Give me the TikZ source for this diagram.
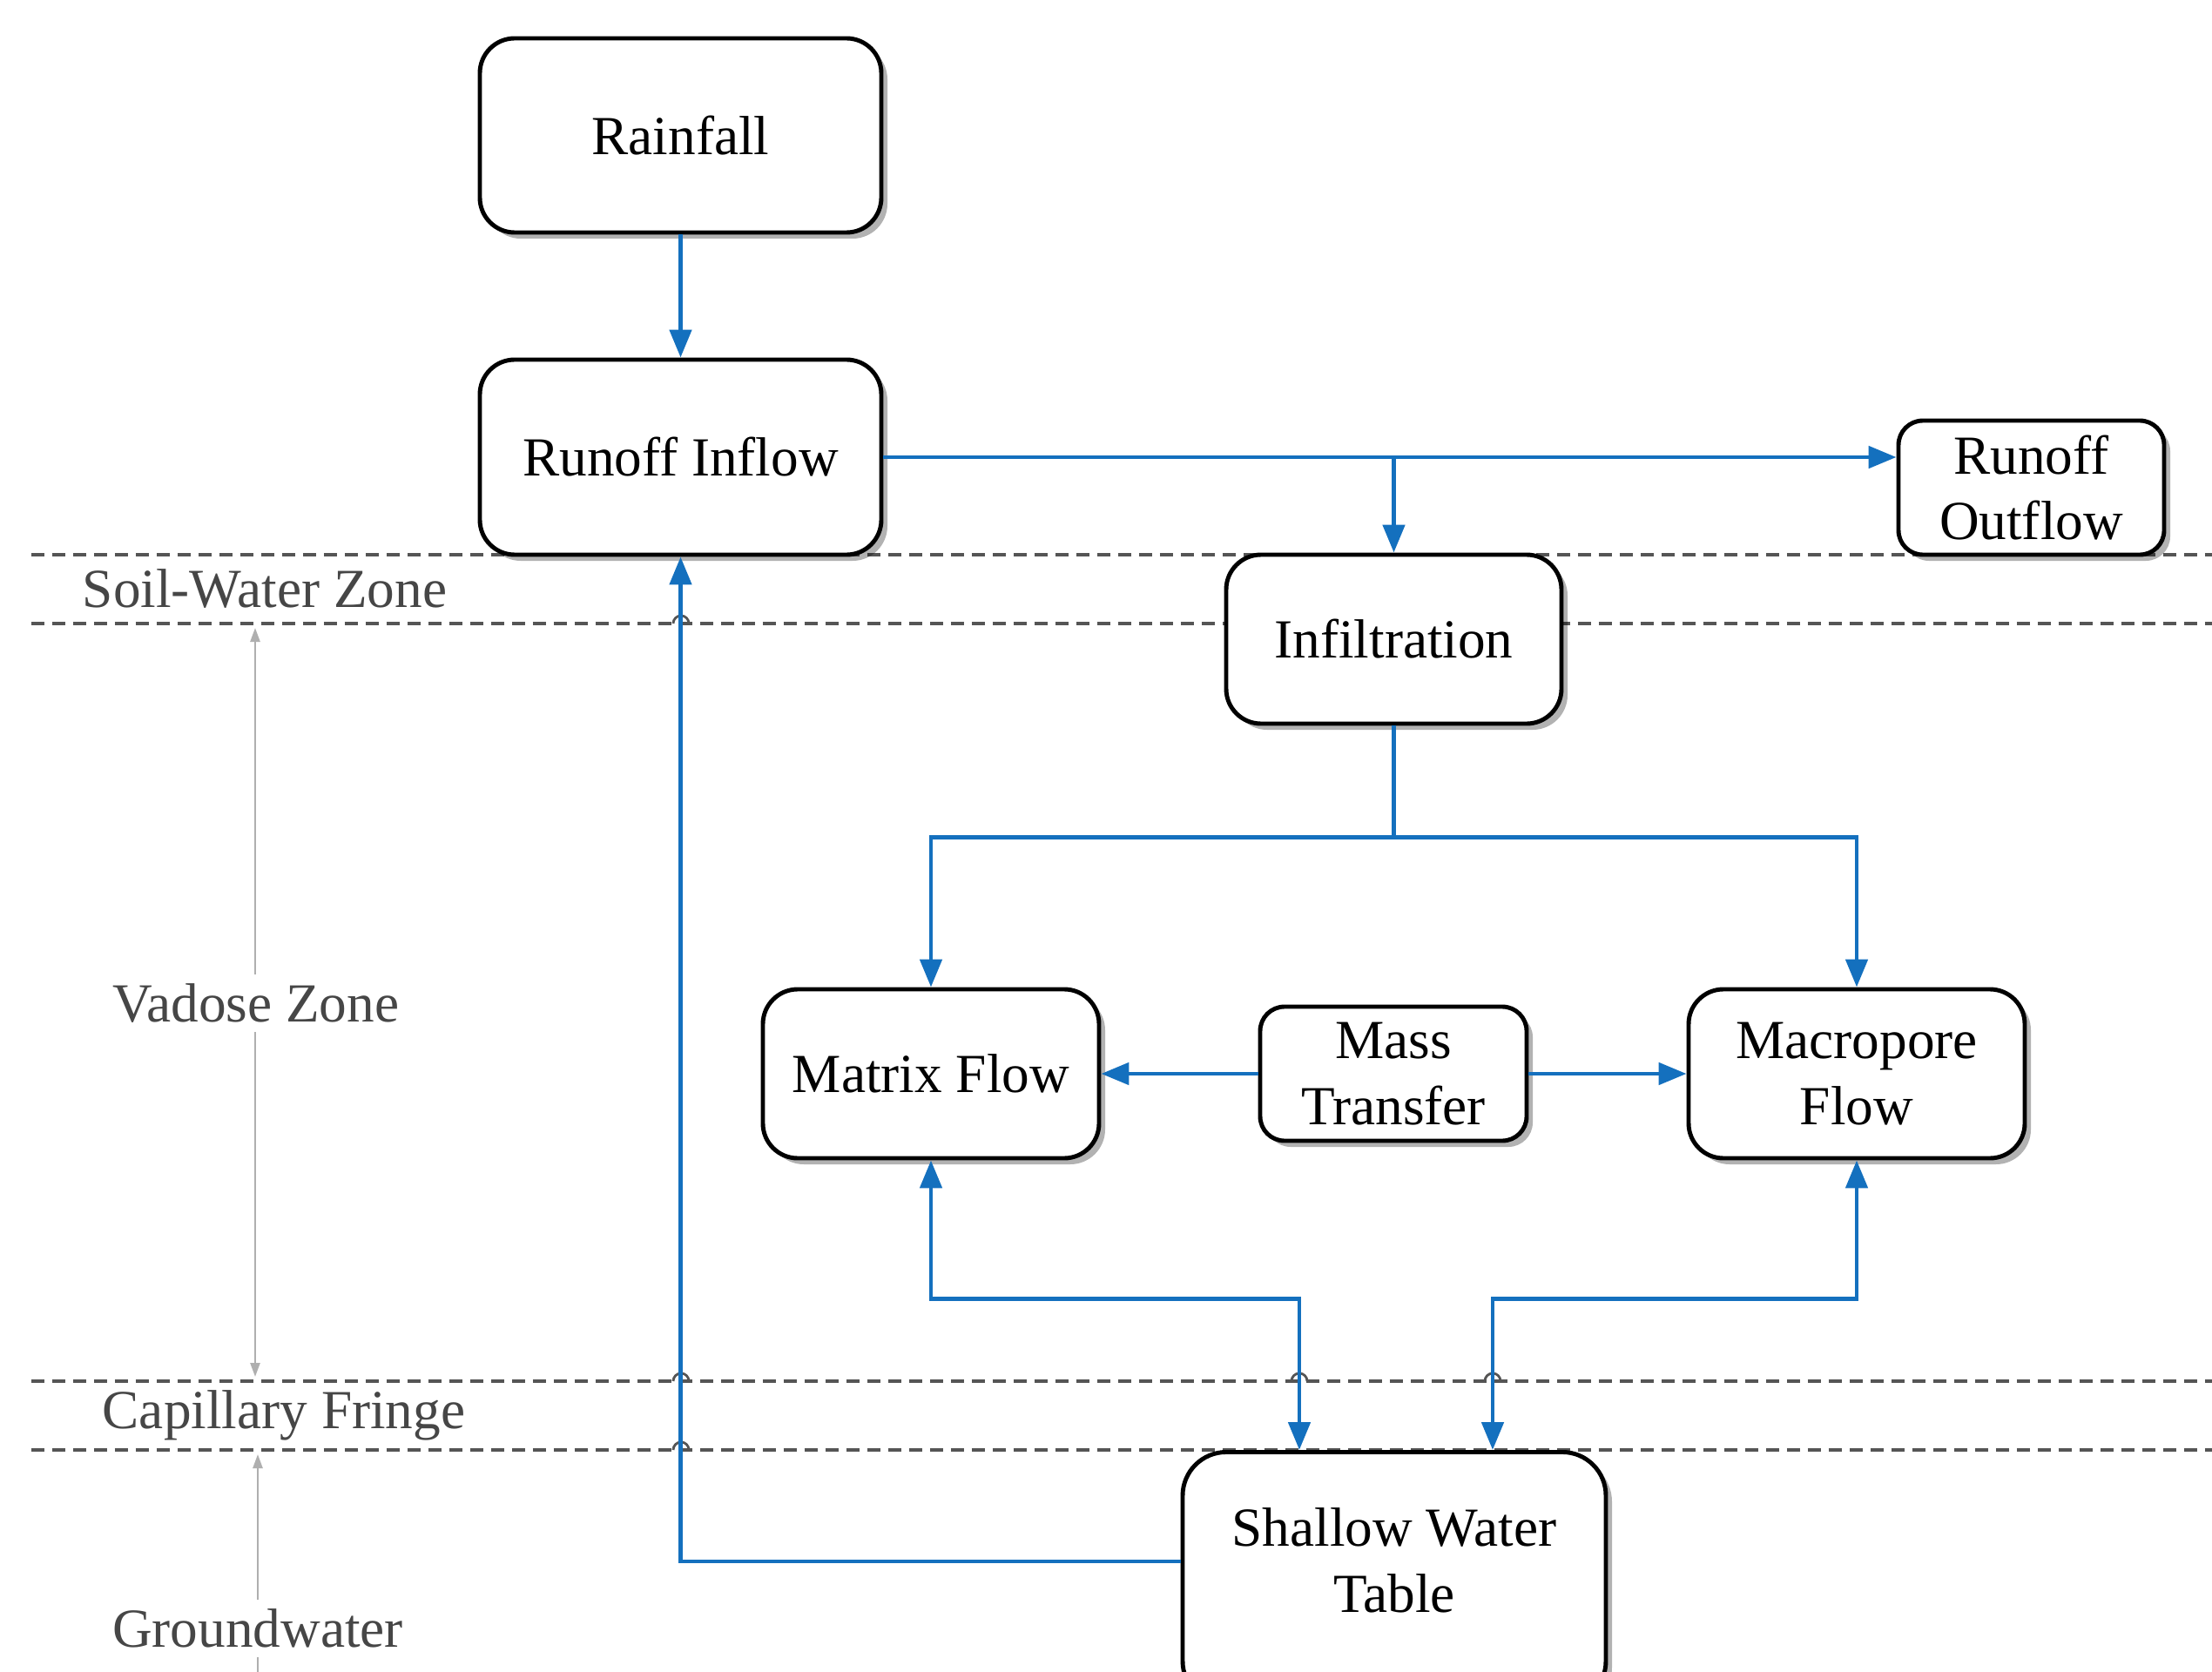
\documentclass[tikz,border=0pt]{standalone}
\usepackage{fontspec}
\setmainfont{Liberation Serif}
\usetikzlibrary{arrows.meta,shadows,calc}
\definecolor{flowblue}{RGB}{20,112,190}
\definecolor{zonegray}{RGB}{70,70,70}
\definecolor{dashgray}{RGB}{85,85,85}
\definecolor{guidegray}{RGB}{175,175,175}
\begin{document}
\begin{tikzpicture}[
  txt/.style={font=\fontsize{18}{21.5}\selectfont},
  procbox/.style={txt, draw=black, line width=1.4pt, fill=white, rounded corners=#1, align=center, inner sep=0pt,
    drop shadow={shadow xshift=0.07cm, shadow yshift=-0.07cm, opacity=0.3, fill=black}},
  procbox/.default=0.4cm,
  flow/.style={draw=flowblue, line width=1.4pt, -{Triangle[length=0.32cm,width=0.25cm]}},
  flowboth/.style={draw=flowblue, line width=1.4pt, {Triangle[length=0.32cm,width=0.25cm]}-{Triangle[length=0.32cm,width=0.25cm]}},
  zoneline/.style={draw=dashgray, line width=0.9pt, dash pattern=on 0.15cm off 0.09cm},
  hop/.style={draw=dashgray, line width=0.8pt},
  zonelabel/.style={txt, text=zonegray},
  guide/.style={draw=guidegray, line width=0.7pt},
  guidetip/.style={guide, {Triangle[length=0.16cm,width=0.11cm]}-{Triangle[length=0.16cm,width=0.11cm]}},
  guideup/.style={guide, -{Triangle[length=0.16cm,width=0.11cm]}}
]
\fill[white] (0,0) rectangle (25.4,-19.2);
\useasboundingbox (0,0) rectangle (25.4,-19.2);

% zone boundaries
\foreach \yy in {-6.37,-7.16,-15.86,-16.65}
  \draw[zoneline] (0.36,\yy) -- (25.4,\yy);

% guide arrows
\coordinate (vtop) at (2.93,-7.21);
\coordinate (vbot) at (2.93,-15.81);
\draw[guidetip] (vtop) -- (vbot);
\coordinate (gbot) at (2.96,-19.2);
\coordinate (gtop) at (2.96,-16.70);
\draw[guideup] (gbot) -- (gtop);

% zone labels
\node[zonelabel] (soilzone) at (3.04,-6.76) {Soil-Water Zone};
\node[zonelabel, fill=white, inner sep=3pt] (vadose) at (2.94,-11.52) {Vadose Zone};
\node[zonelabel] (capzone) at (3.26,-16.25) {Capillary Fringe};
\node[zonelabel, fill=white, inner sep=3pt] (ground) at (2.96,-18.70) {Groundwater};

% line hops on the dashed boundaries
\foreach \xx/\yy in {7.82/-7.16, 7.82/-15.86, 7.82/-16.65, 14.92/-15.86, 17.14/-15.86}
  \draw[hop] (\xx-0.09,\yy) arc (180:0:0.09);

% process boxes
\node[procbox, minimum width=4.61cm, minimum height=2.23cm] (rain) at (7.815,-1.555) {Rainfall};
\node[procbox, minimum width=4.61cm, minimum height=2.24cm] (inflow) at (7.815,-5.25) {Runoff Inflow};
\node[procbox=0.28cm, minimum width=3.05cm, minimum height=1.54cm] (outflow) at (23.325,-5.60) {Runoff\\Outflow};
\node[procbox, minimum width=3.85cm, minimum height=1.94cm] (infil) at (16.005,-7.34) {Infiltration};
\node[procbox, minimum width=3.86cm, minimum height=1.94cm] (matrix) at (10.69,-12.33) {Matrix Flow};
\node[procbox=0.28cm, minimum width=3.06cm, minimum height=1.54cm] (mass) at (16.00,-12.33) {Mass\\Transfer};
\node[procbox, minimum width=3.86cm, minimum height=1.94cm] (macro) at (21.32,-12.33) {Macropore\\Flow};
\node[procbox=0.5cm, minimum width=4.86cm, minimum height=2.9cm, anchor=north] (shallow) at (16.01,-16.65) {};
\node[txt, align=center] (shallowtxt) at (16.01,-17.92) {Shallow Water\\Table};

% connectors
\draw[flow] (rain) -- (inflow);
\draw[flow] (inflow.east) -- (inflow.east -| outflow.west);
\coordinate (split1) at (inflow.east -| infil.north);
\draw[flow] (split1) -- (infil.north);
\coordinate (split2) at ($(infil.south)+(0,-1.28)$);
\draw[flow] (infil.south) -- (split2) -| (matrix.north);
\draw[flow] (split2) -| (macro.north);
\draw[flow] (mass.west) -- (mass.west -| matrix.east);
\draw[flow] (mass.east) -- (mass.east -| macro.west);
\coordinate (mtap) at ($(shallow.north)+(-1.09,0)$);
\coordinate (mctap) at ($(shallow.north)+(1.13,0)$);
\draw[flowboth] (matrix.south) -- ($(matrix.south)+(0,-1.59)$) -| (mtap);
\draw[flowboth] (macro.south) -- ($(macro.south)+(0,-1.59)$) -| (mctap);
\coordinate (retcorner) at (inflow.south |- 0,-17.93);
\draw[flow] (shallow.west |- retcorner) -- (retcorner) -- (inflow.south);
\end{tikzpicture}
\end{document}
